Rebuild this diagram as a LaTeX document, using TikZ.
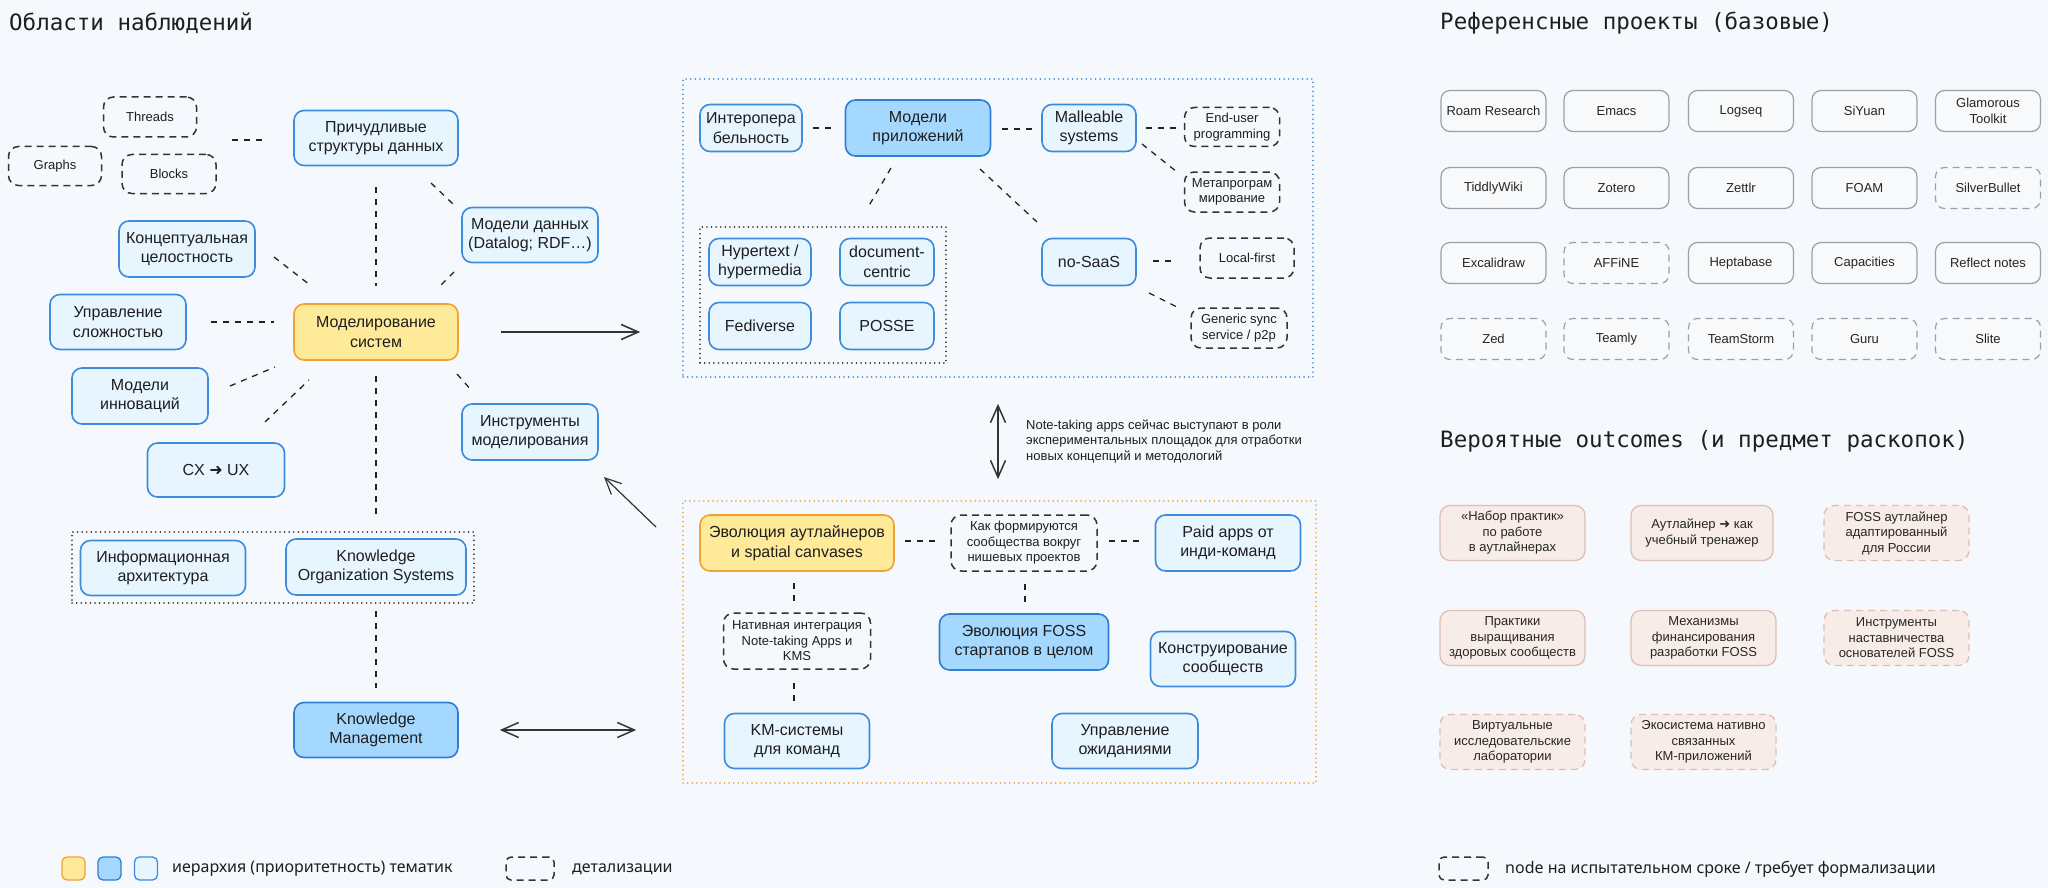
\documentclass[tikz,border=0pt]{standalone}
\usepackage{fontspec}
\setmainfont{Liberation Sans}
\newfontfamily\monoF{DejaVu Sans Mono}
\newfontfamily\legF{Noto Sans}
\newfontfamily\symF{DejaVu Sans}
\usetikzlibrary{arrows.meta}
\newcommand\fMain{\fontsize{16}{19.5}\selectfont}
\newcommand\fSmall{\fontsize{13}{15.5}\selectfont}
\newcommand\fTitle{\monoF\fontsize{22.5}{26}\selectfont}
\newcommand\fLeg{\legF\fontsize{16}{19}\selectfont}
\newcommand\fNote{\fontsize{13}{15.5}\selectfont}
\definecolor{bgC}{HTML}{F5F9FD}
\definecolor{txtC}{HTML}{1E1E1E}
\definecolor{lbF}{HTML}{E7F5FF}
\definecolor{lbD}{HTML}{3D8BDB}
\definecolor{mbF}{HTML}{A5D8FF}
\definecolor{mbD}{HTML}{2F7ED1}
\definecolor{ylF}{HTML}{FFEA9A}
\definecolor{ylD}{HTML}{F2A230}
\definecolor{detD}{HTML}{333333}
\definecolor{refF}{HTML}{F8F9FA}
\definecolor{refD}{HTML}{9AA0A6}
\definecolor{outF}{HTML}{F8ECE8}
\definecolor{outD}{HTML}{DDBFB6}
\definecolor{frBC}{HTML}{4A90D9}
\definecolor{frOC}{HTML}{F2A640}
\definecolor{frKC}{HTML}{333333}
\definecolor{connC}{HTML}{222222}
\definecolor{arrC}{HTML}{333333}
\begin{document}
\begin{tikzpicture}[x=1pt,y=-1pt,
  sz/.style 2 args={minimum width=#1pt, minimum height=#2pt},
  nbox/.style={rectangle, rounded corners=10pt, line width=1.6pt, align=center,
    inner sep=1pt, text=txtC, font=\fMain},
  lb/.style={nbox, fill=lbF, draw=lbD},
  mb/.style={nbox, fill=mbF, draw=mbD},
  yl/.style={nbox, fill=ylF, draw=ylD},
  det/.style={nbox, draw=detD, line width=1.5pt, dash pattern=on 7pt off 5pt, font=\fSmall},
  refb/.style={nbox, rounded corners=9pt, draw=refD, line width=1.2pt, fill=refF,
    font=\fSmall, text=black!85, sz={105}{41}},
  refd/.style={refb, dash pattern=on 7pt off 5pt},
  outb/.style={nbox, rounded corners=10pt, fill=outF, draw=outD, line width=1.3pt,
    font=\fSmall, text=black!85, sz={145}{55}},
  outd/.style={outb, dash pattern=on 7pt off 5pt},
  frame/.style={rectangle, inner sep=0pt, line width=1.6pt, line cap=round,
    dash pattern=on 0.1pt off 4.5pt},
  conn/.style={draw=connC, line width=1.3pt, dash pattern=on 6pt off 6pt},
  arr/.style={draw=arrC, line width=1.8pt,
    -{Straight Barb[length=17pt,width=15pt,line width=1.6pt]}},
  darr/.style={draw=arrC, line width=1.6pt,
    {Straight Barb[length=17pt,width=15pt,line width=1.5pt]}-{Straight Barb[length=17pt,width=15pt,line width=1.5pt]}},
  tarr/.style={draw=arrC, line width=1.2pt,
    -{Straight Barb[length=16pt,width=15pt,line width=1.2pt]}},
  ttl/.style={anchor=west, inner sep=0pt, font=\fTitle, text=txtC},
  leg/.style={anchor=west, inner sep=0pt, font=\fLeg, text=txtC}
]
\fill[bgC] (0,0) rectangle (2048,888);
\useasboundingbox (0,0) rectangle (2048,888);

% ---------- titles
\node[ttl] (t1) at (9,23) {Области наблюдений};
\node[ttl] (t2) at (1440,23) {Референсные проекты (базовые)};
\node[ttl] (t3) at (1440,441) {Вероятные outcomes (и предмет раскопок)};

% ---------- frames
\node[frame, draw=frKC, sz={402}{71}] (fr1) at (273,567.5) {};
\node[frame, draw=frBC, sz={630}{298}] (appfr) at (998,228) {};
\node[frame, draw=frKC, sz={246}{136}] (fr2) at (823,295) {};
\node[frame, draw=frOC, sz={633}{282}] (comfr) at (999.5,642) {};

% ---------- left area
\node[det, sz={93}{40}] (thr) at (150,117) {Threads};
\node[det, sz={93}{39}] (gra) at (55,166) {Graphs};
\node[det, sz={94}{39}] (blo) at (169,174) {Blocks};
\node[lb, sz={164}{55}] (pri) at (376,138) {Причудливые\\структуры данных};
\node[lb, sz={136}{55}] (mdd) at (530,235) {Модели данных\\(Datalog; RDF…)};
\node[lb, sz={136}{56}] (kon) at (187,249) {Концептуальная\\целостность};
\node[lb, sz={136}{55}] (ups) at (118,322) {Управление\\сложностью};
\node[yl, sz={164}{56}] (mod) at (376,332) {Моделирование\\систем};
\node[lb, sz={136}{56}] (inn) at (140,396) {Модели\\инноваций};
\node[lb, sz={137}{54}] (cxux) at (216,470) {CX {\symF ➜} UX};
\node[lb, sz={136}{56}] (ins) at (530,432) {Инструменты\\моделирования};
\node[lb, sz={165}{55}] (ia) at (163,568) {Информационная\\архитектура};
\node[lb, sz={180}{56}] (kos) at (376,567) {Knowledge\\Organization Systems};
\node[mb, sz={164}{55}] (km) at (376,730) {Knowledge\\Management};

% ---------- applications frame
\node[lb, sz={102}{47}] (intop) at (751,128) {Интеропера\\бельность};
\node[mb, sz={145}{56}] (mapp) at (918,128) {Модели\\приложений};
\node[lb, sz={94}{47}] (mall) at (1089,128) {Malleable\\systems};
\node[det, sz={95}{39}] (eup) at (1232,127) {End-user\\programming};
\node[det, sz={95}{40}] (meta) at (1232,192) {Метапрограм\\мирование};
\node[lb, sz={102}{47}] (hyp) at (760,262) {Hypertext /\\hypermedia};
\node[lb, sz={94}{47}] (doc) at (887,262) {document-\\centric};
\node[lb, sz={102}{47}] (fed) at (760,326) {Fediverse};
\node[lb, sz={94}{47}] (pos) at (887,326) {POSSE};
\node[lb, sz={94}{47}] (nos) at (1089,262) {no-SaaS};
\node[det, sz={94}{40}] (loc) at (1247,258) {Local-first};
\node[det, sz={96}{40}] (gen) at (1239,328) {Generic sync\\service / p2p};

% ---------- note
\node[anchor=west, align=left, inner sep=0pt, font=\fNote, text=txtC] (note) at (1026,441)
  {Note-taking apps сейчас выступают в роли\\экспериментальных площадок для отработки\\новых концепций и методологий};

% ---------- community frame
\node[yl, sz={194}{56}] (evo) at (797,543) {Эволюция аутлайнеров\\и spatial canvases};
\node[det, sz={146}{56}] (kak) at (1024,543) {Как формируются\\сообщества вокруг\\нишевых проектов};
\node[lb, sz={145}{56}] (paid) at (1228,543) {Paid apps от\\инди-команд};
\node[det, sz={147}{56}] (nat) at (797,641) {Нативная интеграция\\Note-taking Apps и\\KMS};
\node[lb, sz={145}{55}] (kmt) at (797,741) {KM-системы\\для команд};
\node[mb, sz={169}{56}] (foss) at (1024,642) {Эволюция FOSS\\стартапов в целом};
\node[lb, sz={145}{55}] (kons) at (1223,659) {Конструирование\\сообществ};
\node[lb, sz={146}{55}] (uozh) at (1125,741) {Управление\\ожиданиями};

% ---------- reference projects
\node[refb] (r11) at (1493.5,111) {Roam Research};
\node[refb] (r12) at (1616.5,111) {Emacs};
\node[refb] (r13) at (1741,111) {Logseq};
\node[refb] (r14) at (1864.5,111) {SiYuan};
\node[refb] (r15) at (1988,111) {Glamorous\\Toolkit};
\node[refb] (r21) at (1493.5,188) {TiddlyWiki};
\node[refb] (r22) at (1616.5,188) {Zotero};
\node[refb] (r23) at (1741,188) {Zettlr};
\node[refb] (r24) at (1864.5,188) {FOAM};
\node[refd] (r25) at (1988,188) {SilverBullet};
\node[refb] (r31) at (1493.5,263) {Excalidraw};
\node[refd] (r32) at (1616.5,263) {AFFiNE};
\node[refb] (r33) at (1741,263) {Heptabase};
\node[refb] (r34) at (1864.5,263) {Capacities};
\node[refb] (r35) at (1988,263) {Reflect notes};
\node[refd] (r41) at (1493.5,339) {Zed};
\node[refd] (r42) at (1616.5,339) {Teamly};
\node[refd] (r43) at (1741,339) {TeamStorm};
\node[refd] (r44) at (1864.5,339) {Guru};
\node[refd] (r45) at (1988,339) {Slite};

% ---------- outcomes
\node[outb] (o11) at (1512.5,533) {«Набор практик»\\по работе\\в аутлайнерах};
\node[outb, sz={142}{55}] (o12) at (1702,533) {Аутлайнер {\symF ➜} как\\учебный тренажер};
\node[outd] (o13) at (1896.5,533) {FOSS аутлайнер\\адаптированный\\для России};
\node[outb] (o21) at (1512.5,638) {Практики\\выращивания\\здоровых сообществ};
\node[outb] (o22) at (1703.5,638) {Механизмы\\финансирования\\разработки FOSS};
\node[outd] (o23) at (1896.5,638) {Инструменты\\наставничества\\основателей FOSS};
\node[outd] (o31) at (1512.5,742) {Виртуальные\\исследовательские\\лаборатории};
\node[outd] (o32) at (1703.5,742) {Экосистема нативно\\связанных\\КМ-приложений};

% ---------- legend
\node[yl, sz={23}{23}, rounded corners=5pt, line width=1.3pt] (lg1) at (73.5,868.5) {};
\node[mb, sz={23}{23}, rounded corners=5pt, line width=1.3pt] (lg2) at (109.5,868.5) {};
\node[lb, sz={23}{23}, rounded corners=5pt, line width=1.3pt] (lg3) at (146,868.5) {};
\node[leg] (lgt1) at (172,869) {иерархия (приоритетность) тематик};
\node[det, sz={48}{23}, rounded corners=5pt] (lg4) at (530,868.5) {};
\node[leg] (lgt2) at (572,869) {детализации};
\node[det, sz={49}{23}, rounded corners=5pt] (lg5) at (1463.5,868.5) {};
\node[leg] (lgt3) at (1505,869) {node на испытательном сроке / требует формализации};

% ---------- connector end points (floating dashed links)
\coordinate (c1a) at (232,140);  \coordinate (c1b) at (267,140);
\coordinate (c2a) at (376,187);  \coordinate (c2b) at (376,286);
\coordinate (c3a) at (431,183);  \coordinate (c3b) at (453,204);
\coordinate (c4a) at (274,257);  \coordinate (c4b) at (310,285);
\coordinate (c5a) at (454,272);  \coordinate (c5b) at (440,286);
\coordinate (c6a) at (211,322);  \coordinate (c6b) at (274,322);
\coordinate (c7a) at (230,386);  \coordinate (c7b) at (275,367);
\coordinate (c8a) at (265,422);  \coordinate (c8b) at (309,380);
\coordinate (c9a) at (376,376);  \coordinate (c9b) at (376,517);
\coordinate (c10a) at (457,374); \coordinate (c10b) at (472,391);
\coordinate (c11a) at (376,611); \coordinate (c11b) at (376,688);
\coordinate (c12a) at (813,128); \coordinate (c12b) at (834,128);
\coordinate (c13a) at (1002,129); \coordinate (c13b) at (1032,129);
\coordinate (c14a) at (1146,128); \coordinate (c14b) at (1181,128);
\coordinate (c15a) at (1142,144); \coordinate (c15b) at (1177,172);
\coordinate (c16a) at (891,168); \coordinate (c16b) at (867,209);
\coordinate (c17a) at (980,169); \coordinate (c17b) at (1037,222);
\coordinate (c18a) at (1153,261); \coordinate (c18b) at (1176,261);
\coordinate (c19a) at (1149,293); \coordinate (c19b) at (1177,307);
\coordinate (c20a) at (905,541); \coordinate (c20b) at (937,541);
\coordinate (c21a) at (1109,541); \coordinate (c21b) at (1140,541);
\coordinate (c22a) at (794,583); \coordinate (c22b) at (794,604);
\coordinate (c23a) at (794,683); \coordinate (c23b) at (794,704);
\coordinate (c24a) at (1025,584); \coordinate (c24b) at (1025,603);
\foreach \i in {1,...,24} {\draw[conn] (c\i a) -- (c\i b);}

% ---------- arrows
\draw[arr, shorten <=42pt, shorten >=42pt] (mod.east) -- (appfr.west |- mod.east);
\draw[darr, shorten <=26pt, shorten >=21pt] (appfr.south) -- (appfr.south |- comfr.north);
\draw[darr, shorten <=41pt, shorten >=46pt] (km.east) -- (comfr.west |- km.east);
\coordinate (a2s) at (656,527);
\coordinate (a2e) at (604,477);
\draw[tarr] (a2s) -- (a2e);
\end{tikzpicture}
\end{document}
